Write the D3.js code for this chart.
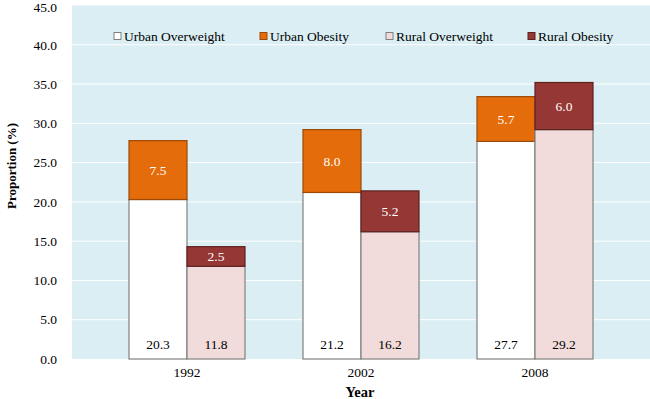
<!DOCTYPE html>
<html>
<head>
<meta charset="utf-8">
<script src="https://cdn.jsdelivr.net/npm/d3@7"></script>
<style>
  body { margin: 0; background: #fff; }
  text { font-family: "Liberation Serif", "Times New Roman", serif; }
</style>
</head>
<body>
<div id="chart"></div>
<script>
const years = ['1992', '2002', '2008'];
const urbanOverweight = [20.3, 21.2, 27.7];
const urbanObesity = [7.5, 8.0, 5.7];
const ruralOverweight = [11.8, 16.2, 29.2];
const ruralObesity = [2.5, 5.2, 6.0];
const yTicks = [0, 5, 10, 15, 20, 25, 30, 35, 40, 45];
const legendLabels = ['Urban Overweight', 'Urban Obesity', 'Rural Overweight', 'Rural Obesity'];

const width = 650, height = 399;
const plot = { left: 72, right: 650, top: 5.5, bottom: 359 };
const colors = {
    uOw: '#ffffff', uOb: '#e46c0a', rOw: '#f2dcdb', rOb: '#953735'
};
const strokes = {
    uOw: '#808080', uOb: '#9c4a08', rOw: '#808080', rOb: '#5e2220'
};

const svg = d3.select('#chart').append('svg').attr('width', width).attr('height', height);

const y = d3.scaleLinear().domain([0, 45]).range([plot.bottom, plot.top]);
const x = d3.scaleBand().domain(years).range([100, 622]);
const sub = d3.scaleBand().domain(['urban', 'rural']).range([0, x.bandwidth()]).paddingOuter(0.5).paddingInner(0);

// background
svg.append('rect')
    .attr('x', plot.left).attr('y', plot.top)
    .attr('width', plot.right - plot.left).attr('height', plot.bottom - plot.top)
    .attr('fill', '#daeef3');

// gridlines
svg.append('g').selectAll('line').data(yTicks.filter(t => t > 0 && t < 45))
    .enter().append('line')
    .attr('x1', plot.left).attr('x2', plot.right)
    .attr('y1', d => y(d)).attr('y2', d => y(d))
    .attr('stroke', '#ffffff').attr('stroke-width', 1);

// y tick labels
svg.append('g').selectAll('text').data(yTicks)
    .enter().append('text')
    .attr('x', 57).attr('y', d => Math.max(y(d), 7))
    .attr('dy', '0.35em')
    .attr('text-anchor', 'end')
    .attr('font-size', 13.5)
    .attr('fill', '#000')
    .text(d => d.toFixed(1));

// bars
const segs = [];
years.forEach((yr, i) => {
    segs.push({ yr, side: 'urban', y0: 0, y1: urbanOverweight[i], key: 'uOw', v: urbanOverweight[i] });
    segs.push({ yr, side: 'urban', y0: urbanOverweight[i], y1: urbanOverweight[i] + urbanObesity[i], key: 'uOb', v: urbanObesity[i] });
    segs.push({ yr, side: 'rural', y0: 0, y1: ruralOverweight[i], key: 'rOw', v: ruralOverweight[i] });
    segs.push({ yr, side: 'rural', y0: ruralOverweight[i], y1: ruralOverweight[i] + ruralObesity[i], key: 'rOb', v: ruralObesity[i] });
});

const bars = svg.append('g');
bars.selectAll('rect').data(segs)
    .enter().append('rect')
    .attr('x', d => x(d.yr) + sub(d.side))
    .attr('y', d => y(d.y1))
    .attr('width', sub.bandwidth())
    .attr('height', d => y(d.y0) - y(d.y1))
    .attr('fill', d => colors[d.key])
    .attr('stroke', d => strokes[d.key])
    .attr('stroke-width', 1.2);

bars.selectAll('text').data(segs)
    .enter().append('text')
    .attr('x', d => x(d.yr) + sub(d.side) + sub.bandwidth() / 2)
    .attr('y', d => (d.key === 'uOw' || d.key === 'rOw') ? y(0) - 15 : (y(d.y0) + y(d.y1)) / 2)
    .attr('dy', '0.35em')
    .attr('text-anchor', 'middle')
    .attr('font-size', 13.5)
    .attr('fill', d => (d.key === 'uOw' || d.key === 'rOw') ? '#000' : '#fff')
    .text(d => d.v.toFixed(1));

// x labels
svg.append('g').selectAll('text').data(years)
    .enter().append('text')
    .attr('x', d => x(d) + x.bandwidth() / 2)
    .attr('y', 372)
    .attr('dy', '0.35em')
    .attr('text-anchor', 'middle')
    .attr('font-size', 13.5)
    .text(d => d);

// axis titles
svg.append('text')
    .attr('x', 360).attr('y', 392)
    .attr('dy', '0.35em')
    .attr('text-anchor', 'middle')
    .attr('font-size', 14.5).attr('font-weight', 'bold')
    .text('Year');

svg.append('text')
    .attr('transform', 'translate(11,166) rotate(-90)')
    .attr('dy', '0.35em')
    .attr('text-anchor', 'middle')
    .attr('font-size', 13).attr('font-weight', 'bold')
    .text('Proportion (%)');

// legend
const legendX = [114, 260, 386, 528];
const legendKeys = ['uOw', 'uOb', 'rOw', 'rOb'];
const legend = svg.append('g').selectAll('g').data(legendLabels)
    .enter().append('g')
    .attr('transform', (d, i) => 'translate(' + legendX[i] + ',36)');
legend.append('rect')
    .attr('x', 0).attr('y', -3.5).attr('width', 7).attr('height', 7)
    .attr('fill', (d, i) => colors[legendKeys[i]])
    .attr('stroke', (d, i) => strokes[legendKeys[i]])
    .attr('stroke-width', 1);
legend.append('text')
    .attr('x', 10).attr('y', 0)
    .attr('dy', '0.35em')
    .attr('font-size', 13.5)
    .text(d => d);
</script>
</body>
</html>
